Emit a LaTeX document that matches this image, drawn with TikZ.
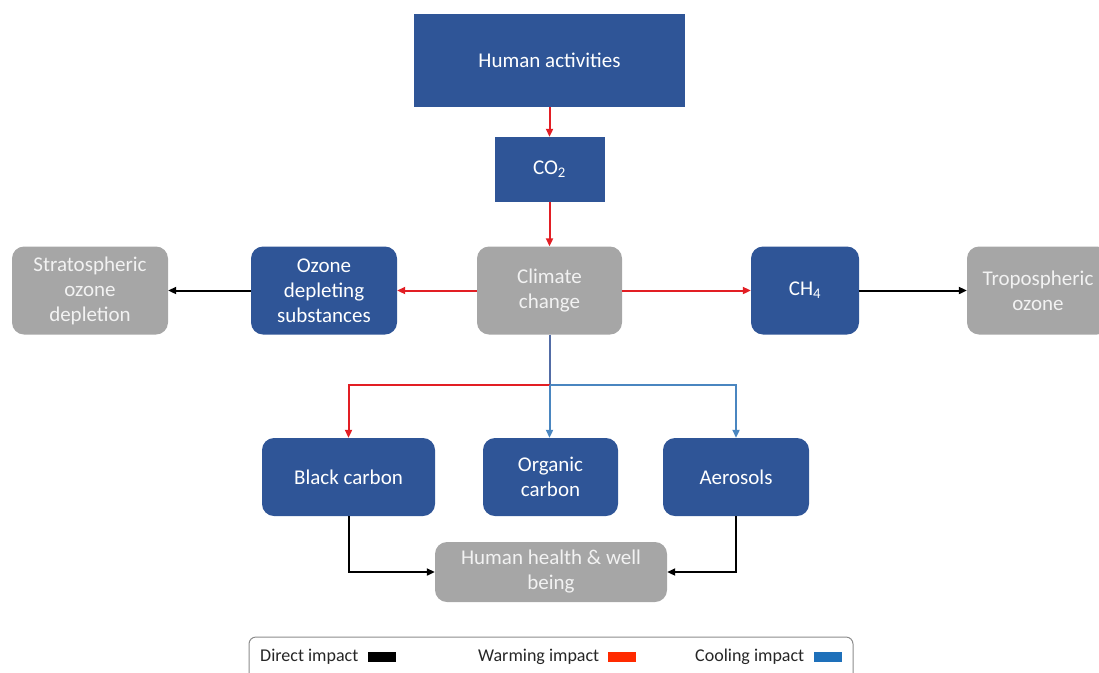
\documentclass[tikz,border=0pt]{standalone}
\usepackage{fontspec}
\setmainfont{Carlito}
\usepackage{tikz}
\usetikzlibrary{arrows.meta,positioning}

\definecolor{boxblue}{RGB}{47,85,151}
\definecolor{boxgray}{RGB}{166,166,166}
\definecolor{txtgray}{RGB}{242,242,242}
\definecolor{redline}{RGB}{226,30,36}
\definecolor{blueline}{RGB}{74,134,192}
\definecolor{stemblue}{RGB}{82,108,166}
\definecolor{legred}{RGB}{255,42,0}
\definecolor{legblue}{RGB}{30,112,186}

\newcommand\boxfont{\fontsize{21}{25}\selectfont}
\newcommand\legfont{\fontsize{18}{22}\selectfont}

\tikzset{
  blubox/.style={rectangle, rounded corners=12pt, fill=boxblue, text=white,
                 align=center, inner sep=0pt, font=\boxfont},
  grybox/.style={rectangle, rounded corners=12pt, fill=boxgray, text=txtgray,
                 align=center, inner sep=0pt, font=\boxfont},
  flow/.style={line width=2pt, -{Triangle[length=8pt,width=7pt]}},
  legkey/.style={rectangle, inner sep=0pt, minimum width=28pt, minimum height=10pt},
  legtext/.style={inner sep=0pt, font=\legfont, text=black!85}
}

\begin{document}
\begin{tikzpicture}[x=1pt, y=-1pt]
      \useasboundingbox (0,0) rectangle (1099,672);
      % top chain
      \node (human) [blubox, sharp corners, minimum width=271pt, minimum height=93pt] at (549.5,60.5) {Human activities};
      \node (co2) [blubox, sharp corners, minimum width=110pt, minimum height=65pt] at (549.5,169.5) {CO\textsubscript{2}};
      % middle row
      \node (climate) [grybox, minimum width=145pt, minimum height=88pt] at (549.5,290.5) {Climate\\change};
      \node (ods) [blubox, minimum width=146pt, minimum height=88pt] at (324,290.5) {Ozone\\depleting\\substances};
      \node (strato) [grybox, minimum width=156pt, minimum height=88pt] at (90,290.5) {Stratospheric\\ozone\\depletion};
      \node (ch4) [blubox, minimum width=108pt, minimum height=88pt] at (805,290.5) {CH\textsubscript{4}};
      \node (tropo) [grybox, minimum width=142pt, minimum height=88pt] at (1038,290.5) {Tropospheric\\ozone};
      % bottom row
      \node (black) [blubox, minimum width=173pt, minimum height=78pt] at (348.5,477) {Black carbon};
      \node (organic) [blubox, minimum width=135pt, minimum height=78pt] at (550.5,477) {Organic\\carbon};
      \node (aero) [blubox, minimum width=146pt, minimum height=78pt] at (736,477) {Aerosols};
      \node (health) [grybox, minimum width=232pt, minimum height=60pt] at (551,572) {Human health \& well\\being};
      \coordinate (split) at (549.5,385);

      \draw[flow, redline] (human) -- (co2);
      \draw[flow, redline] (co2) -- (climate);
      \draw[flow, redline] (climate) -- (ods);
      \draw[flow, redline] (climate) -- (ch4);
      \draw[flow] (ods) -- (strato);
      \draw[flow] (ch4) -- (tropo);
      \draw[line width=2pt, stemblue] (climate) -- (split);
      \draw[flow, redline] (split) -| (black);
      \draw[flow, blueline] (split) -- (split |- organic.north);
      \draw[flow, blueline] (split) -| (aero);
      \draw[flow] (black) |- (health);
      \draw[flow] (aero) |- (health);

      % legend
      \node (legend) [draw=black!45, line width=1pt, rounded corners=7pt, minimum width=604pt, minimum height=56pt] at (551,665) {};
      \node (direct) [legtext, anchor=west] at (260,657) {Direct impact};
      \node (dkey) [legkey, fill=black, right=9pt of direct] {};
      \node (warm) [legtext, anchor=west] at (478,657) {Warming impact};
      \node (wkey) [legkey, fill=legred, right=8pt of warm] {};
      \node (cool) [legtext, anchor=west] at (695,657) {Cooling impact};
      \node (ckey) [legkey, fill=legblue, right=9pt of cool] {};
\end{tikzpicture}
\end{document}
